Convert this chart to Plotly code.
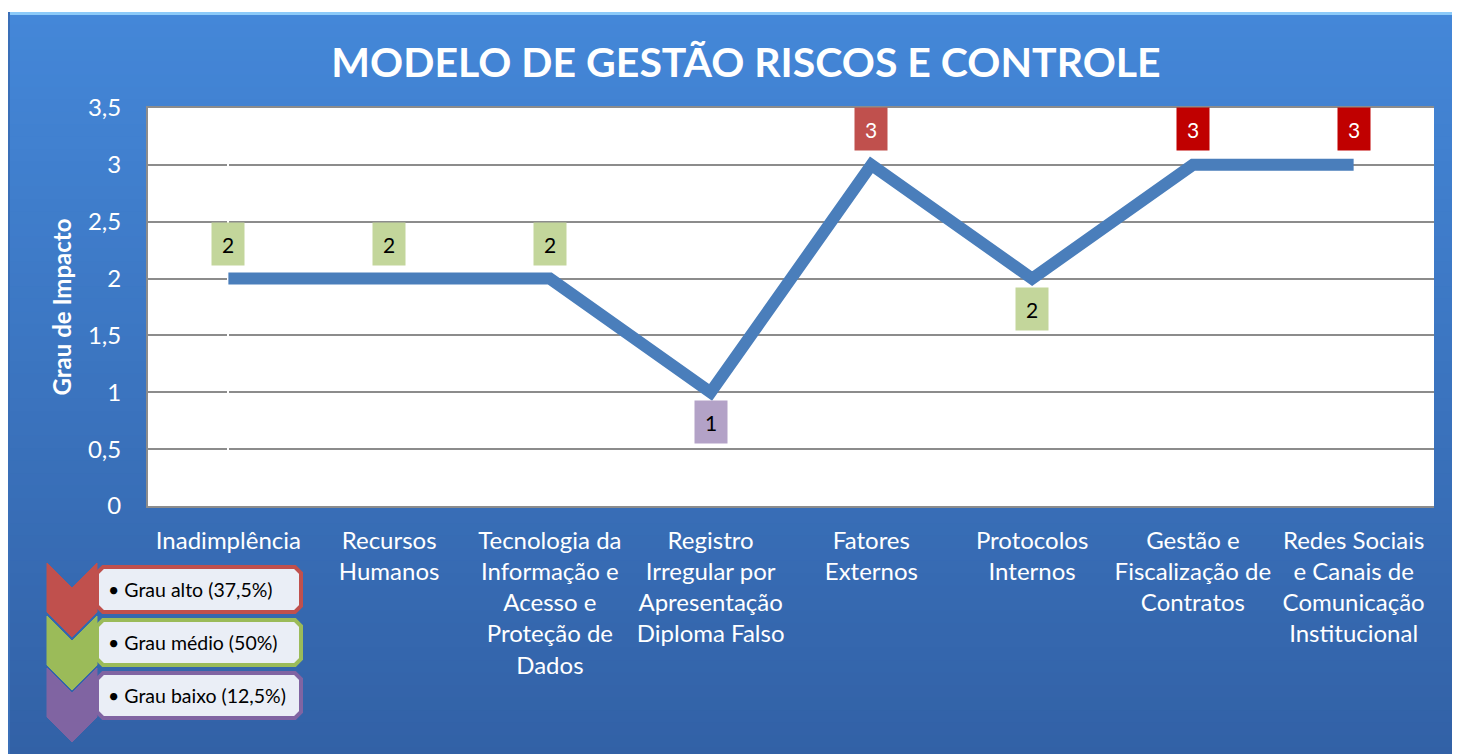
import plotly.graph_objects as go

# data
categories = [
    "Inadimplência",
    "Recursos<br>Humanos",
    "Tecnologia da<br>Informação e<br>Acesso e<br>Proteção de<br>Dados",
    "Registro<br>Irregular por<br>Apresentação<br>Diploma Falso",
    "Fatores<br>Externos",
    "Protocolos<br>Internos",
    "Gestão e<br>Fiscalização de<br>Contratos",
    "Redes Sociais<br>e Canais de<br>Comunicação<br>Institucional",
]
impacto = [2, 2, 2, 1, 3, 2, 3, 3]
label_bg = ["#c3d69b", "#c3d69b", "#c3d69b", "#b3a2c7", "#c0504d", "#c3d69b", "#c00000", "#c00000"]
label_fg = ["black", "black", "black", "black", "white", "black", "white", "white"]
label_shift = [35, 35, 35, -30, 36, -30, 36, 36]

legend_labels = ["Grau alto (37,5%)", "Grau médio (50%)", "Grau baixo (12,5%)"]
legend_colors = ["#c0504d", "#9bbb59", "#8064a2"]

FONT = "Lato"
OFF = 8  # page body margin
W, H = 1470 - OFF, 754 - OFF
# plot area in window pixels
L, R, T, B = 148, 1434, 108, 506


def px(xp):
    return (xp - L) / (R - L)


def py(yp):
    return (B - yp) / (B - T)


fig = go.Figure()

fig.add_trace(go.Scatter(
    x=list(range(len(categories))),
    y=impacto,
    mode="lines",
    line=dict(color="#4a7ebb", width=12),
    hoverinfo="skip",
    showlegend=False,
))

shapes = []
# blue gradient panel
top_c = (68, 135, 216)
bot_c = (50, 97, 166)
n = 60
y0, y1 = 12, 760
for i in range(n):
    a = y0 + (y1 - y0) * i / n
    b = y0 + (y1 - y0) * (i + 1) / n + 1
    t = i / (n - 1)
    c = tuple(round(top_c[k] + (bot_c[k] - top_c[k]) * t) for k in range(3))
    shapes.append(dict(type="rect", xref="paper", yref="paper", layer="below",
                       x0=px(8), x1=px(1480), y0=py(a), y1=py(b),
                       fillcolor="rgb(%d,%d,%d)" % c, line=dict(width=0)))
shapes.append(dict(type="rect", xref="paper", yref="paper", layer="below",
                   x0=px(8), x1=px(1480), y0=py(12), y1=py(15),
                   fillcolor="#8ccaf9", line=dict(width=0)))
shapes.append(dict(type="rect", xref="paper", yref="paper", layer="below",
                   x0=px(8), x1=px(10), y0=py(12), y1=py(760),
                   fillcolor="#3a6fb8", line=dict(width=0)))
# white plot area
shapes.append(dict(type="rect", xref="paper", yref="paper", layer="below",
                   x0=0, x1=1, y0=0, y1=1, fillcolor="white", line=dict(width=0)))


def path(points):
    return "M " + " L ".join("%f,%f" % (px(a), py(b)) for a, b in points) + " Z"


def rounded(x0, y0, x1, y1, r):
    pts = [(x0 + r, y0), (x1 - r, y0), (x1, y0 + r), (x1, y1 - r),
           (x1 - r, y1), (x0 + r, y1), (x0, y1 - r), (x0, y0 + r)]
    return path(pts)


annotations = []
chev_tops = [563, 616, 668]
box_tops = [567, 620, 673]
for lab, col, ct, bt in zip(legend_labels, legend_colors, chev_tops, box_tops):
    shapes.append(dict(type="path", xref="paper", yref="paper", layer="above",
                       path=path([(47, ct), (72, ct + 25), (97, ct), (97, ct + 49),
                                  (72, ct + 74), (47, ct + 49)]),
                       fillcolor=col, line=dict(color=col, width=1)))
    shapes.append(dict(type="path", xref="paper", yref="paper", layer="above",
                       path=rounded(97, bt, 301, bt + 45, 6),
                       fillcolor="#eaeef6", line=dict(color=col, width=4)))
    annotations.append(dict(xref="paper", yref="paper", x=px(106), y=py(bt + 22.5),
                            xanchor="left", yanchor="middle", showarrow=False,
                            text="\u2022 " + lab,
                            font=dict(family=FONT, size=19.5, color="black")))

for i, v in enumerate(impacto):
    annotations.append(dict(x=i, y=v, xref="x", yref="y", text=str(v), showarrow=False,
                            yshift=label_shift[i], width=30, height=40,
                            bgcolor=label_bg[i],
                            font=dict(family=FONT, size=21, color=label_fg[i])))

fig.update_layout(
    width=W, height=H,
    margin=dict(l=L - OFF, r=W - (R - OFF), t=T - OFF, b=H - (B - OFF), pad=0),
    paper_bgcolor="white",
    plot_bgcolor="white",
    separators=", ",
    font=dict(family=FONT, color="white"),
    title=dict(text="<b>MODELO DE GESTÃO RISCOS E CONTROLE</b>",
               x=(746 - OFF) / W, y=1 - (63 - OFF) / H, xanchor="center", yanchor="middle",
               font=dict(family=FONT, size=41, color="white")),
    xaxis=dict(
        tickmode="array",
        tickvals=list(range(len(categories))),
        ticktext=categories,
        range=[-0.5, 7.5],
        showgrid=False,
        showline=True, mirror=True, linecolor="#8c8c8c", linewidth=2,
        ticks="", ticklabelstandoff=12,
        tickfont=dict(family=FONT, size=24, color="white"),
        fixedrange=True,
    ),
    yaxis=dict(
        range=[0, 3.5],
        dtick=0.5,
        showgrid=True, gridcolor="#8c8c8c", gridwidth=2,
        zeroline=False,
        showline=True, linecolor="#8c8c8c", linewidth=2,
        ticks="", ticklabelstandoff=20,
        tickfont=dict(family=FONT, size=24, color="white"),
        title=dict(text="<b>Grau de Impacto</b>", standoff=10,
                   font=dict(family=FONT, size=24, color="white")),
        fixedrange=True,
    ),
    shapes=shapes,
    annotations=annotations,
)

fig.write_html("out.html")
